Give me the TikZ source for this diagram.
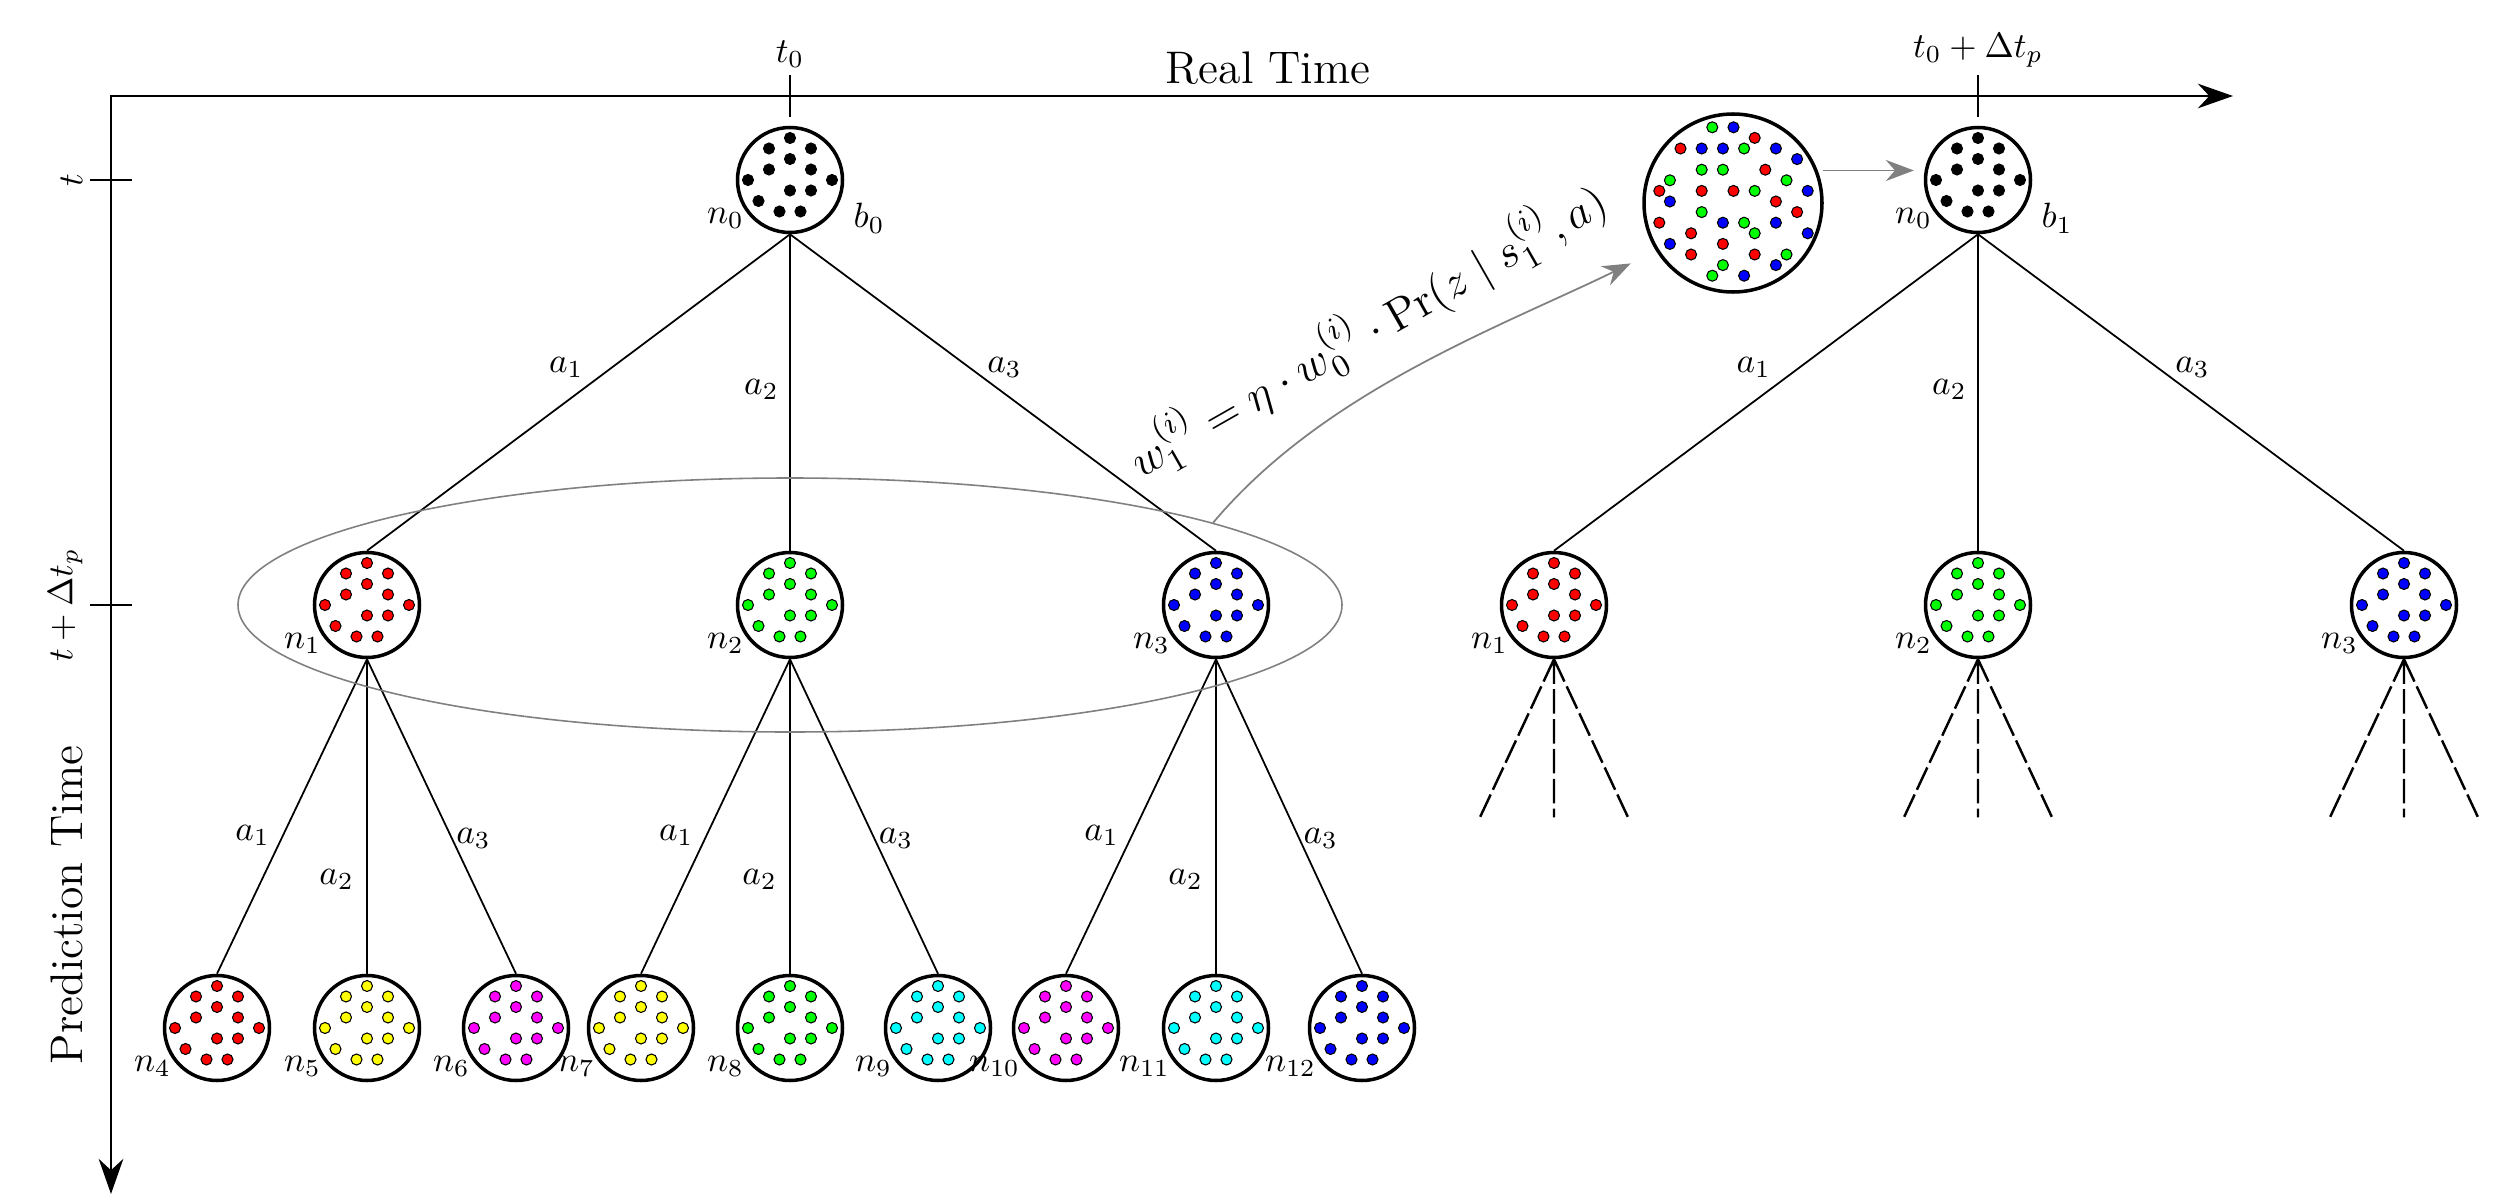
\RequirePackage{fix-cm}
\documentclass[tikz,border=0pt]{standalone}
\usepackage{amsmath}
\usepackage{amsfonts}
\usepackage{tikz}
\usetikzlibrary{positioning,arrows.meta,shapes.geometric}

\definecolor{pyellow}{RGB}{255,255,0}
\definecolor{pmagenta}{RGB}{255,0,255}
\definecolor{pcyan}{RGB}{0,255,255}
\newcommand{\bigtext}{\fontsize{13}{16}\selectfont}
% thirteen particles of one colour inside a belief node
\newcommand{\particles}[2]{%
  \foreach \dx/\dy in {0/4,-2/3,2/3,0/2,-2/1,2/1,-4/0,4/0,0/-1,2/-1,-3/-2,-1/-3,1/-3}
    \draw[particle,fill=#2] (#1) ++(0.105*\dx,0.105*\dy) circle (0.055);
}
% resampled particles of the three branches
\newcommand{\mixedparticles}[1]{%
  \foreach \dx/\dy/\col in {-2/7/green,0/7/blue,2/6/red,
      -5/5/red,-3/5/blue,-1/5/blue,1/5/green,4/5/blue,6/4/blue,
      -3/3/green,-1/3/green,3/3/red,-6/2/green,5/2/green,
      -7/1/red,-3/1/red,0/1/red,2/1/green,7/1/blue,-6/0/blue,4/0/red,
      6/-1/red,-3/-1/green,-7/-2/red,-1/-2/blue,1/-2/green,4/-2/blue,
      -4/-3/red,2/-3/green,7/-3/blue,-6/-4/blue,-1/-4/red,
      -4/-5/red,2/-5/red,5/-5/green,-1/-6/green,4/-6/blue,-2/-7/green,1/-7/blue}
    \draw[particle,fill=\col] (#1) ++(0.106*\dx+0.005,0.106*\dy+0.015) circle (0.055);
}

\begin{document}
\begin{tikzpicture}[
    >=Stealth,
    on grid,
    belief/.style={circle, draw, line width=1pt, fill=white, minimum size=1.05cm, inner sep=0pt},
    particle/.style={draw=black, line width=0.3pt},
    nlab/.style={label={[anchor=east]south west:$n_{#1}$}},
    blab/.style={label={[anchor=west,xshift=5pt]south east:$b_{#1}$}},
    every label/.style={inner sep=2pt},
    act/.style={inner sep=2pt},
    treeline/.style={line width=0.5pt},
    stubline/.style={line width=0.7pt, dash pattern=on 7pt off 1.5pt},
    flowline/.style={->, gray, line width=0.5pt, >={Stealth[length=8pt,width=6pt]}},
    axisline/.style={line width=0.65pt, >={Stealth[length=10pt,width=7pt]}},
    tickline/.style={line width=0.35pt}
]
\useasboundingbox (0,0) rectangle (25.13,-11.98);

% current tree
\node[belief, nlab=0, blab=0] (n0) at (7.90,-1.80) {};
\node[belief, nlab=1, below left=4.25cm and 4.23cm of n0] (n1) {};
\node[belief, nlab=2, below=4.25cm of n0] (n2) {};
\node[belief, nlab=3, below right=4.25cm and 4.26cm of n0] (n3) {};
\node[belief, nlab=4, below left=4.23cm and 1.50cm of n1] (n4) {};
\node[belief, nlab=5, below=4.23cm of n1] (n5) {};
\node[belief, nlab=6, below right=4.23cm and 1.49cm of n1] (n6) {};
\node[belief, nlab=7, below left=4.23cm and 1.49cm of n2] (n7) {};
\node[belief, nlab=8, below=4.23cm of n2] (n8) {};
\node[belief, nlab=9, below right=4.23cm and 1.48cm of n2] (n9) {};
\node[belief, nlab=10, below left=4.23cm and 1.50cm of n3] (n10) {};
\node[belief, nlab=11, below=4.23cm of n3] (n11) {};
\node[belief, nlab=12, below right=4.23cm and 1.46cm of n3] (n12) {};

% next tree
\node[belief, nlab=0, blab=1] (b1) at (19.78,-1.80) {};
\node[belief, nlab=1, below left=4.25cm and 4.24cm of b1] (r1) {};
\node[belief, nlab=2, below=4.25cm of b1] (r2) {};
\node[belief, nlab=3, below right=4.25cm and 4.26cm of b1] (r3) {};
\node[circle, draw, line width=1pt, fill=white, minimum size=1.78cm, inner sep=0pt,
      below left=0.23cm and 2.45cm of b1] (newbelief) {};

\particles{n0}{black}
\particles{n1}{red}
\particles{n2}{green}
\particles{n3}{blue}
\particles{n4}{red}
\particles{n5}{pyellow}
\particles{n6}{pmagenta}
\particles{n7}{pyellow}
\particles{n8}{green}
\particles{n9}{pcyan}
\particles{n10}{pmagenta}
\particles{n11}{pcyan}
\particles{n12}{blue}
\particles{b1}{black}
\particles{r1}{red}
\particles{r2}{green}
\particles{r3}{blue}
\mixedparticles{newbelief}

% axes
\coordinate (origin) at (1.11,-0.96);
\coordinate (realend) at (22.33,-0.96);
\coordinate (predend) at (1.11,-11.94);
\draw[axisline, <->] (predend) |- (realend);
\node[anchor=base] (realtime) at (12.68,-0.83) {\bigtext Real Time};
\node[rotate=90] (predtime) at (0.67,-9.05) {\bigtext Prediction Time};

\draw[tickline] (n0 |- origin) ++(0,-0.21) -- ++(0,0.42) node[above, inner sep=2pt] {$t_0$};
\draw[tickline] (b1 |- origin) ++(0,-0.21) -- ++(0,0.42) node[above, inner sep=2pt] {$t_0+\Delta t_p$};
\draw[tickline] (origin |- n0) ++(0.21,0) -- ++(-0.42,0) node[rotate=90, anchor=south, inner sep=2pt] {$t$};
\draw[tickline] (origin |- n2) ++(0.21,0) -- ++(-0.42,0) node[rotate=90, anchor=south, inner sep=2pt] {$t+\Delta t_p$};

% branches
\path[treeline]
(n0.south) edge node[act, pos=.42, left=6pt] {$a_1$} (n1.north)
(n0.south) edge node[act, pos=.49, left=1pt] {$a_2$} (n2.north)
(n0.south) edge node[act, pos=.42, right=3pt] {$a_3$} (n3.north)
(n1.south) edge node[act, pos=.56, left=1.5pt] {$a_1$} (n4.north)
(n1.south) edge node[act, pos=.70, left=1.5pt] {$a_2$} (n5.north)
(n1.south) edge node[act, pos=.57, right=-1pt] {$a_3$} (n6.north)
(n2.south) edge node[act, pos=.56, left=1.5pt] {$a_1$} (n7.north)
(n2.south) edge node[act, pos=.70, left=1.5pt] {$a_2$} (n8.north)
(n2.south) edge node[act, pos=.57, right=-1pt] {$a_3$} (n9.north)
(n3.south) edge node[act, pos=.56, left=1.5pt] {$a_1$} (n10.north)
(n3.south) edge node[act, pos=.70, left=1.5pt] {$a_2$} (n11.north)
(n3.south) edge node[act, pos=.57, right=-1pt] {$a_3$} (n12.north)
(b1.south) edge node[act, pos=.42, left=6pt] {$a_1$} (r1.north)
(b1.south) edge node[act, pos=.49, left=1pt] {$a_2$} (r2.north)
(b1.south) edge node[act, pos=.42, right=3pt] {$a_3$} (r3.north);

\draw[stubline] (r1.south) -- ++(-0.74,-1.58) (r1.south) -- ++(0,-1.58) (r1.south) -- ++(0.74,-1.58);
\draw[stubline] (r2.south) -- ++(-0.74,-1.58) (r2.south) -- ++(0,-1.58) (r2.south) -- ++(0.74,-1.58);
\draw[stubline] (r3.south) -- ++(-0.74,-1.58) (r3.south) -- ++(0,-1.58) (r3.south) -- ++(0.74,-1.58);

% weight update
\node[ellipse, draw=gray, line width=0.45pt, minimum width=11.04cm, minimum height=2.54cm, inner sep=0pt] (layer) at (n2) {};
\draw[flowline, shorten >=8pt] (layer.11) to[out=50, in=206, looseness=0.85]
  node[sloped, above=4pt, pos=.45, text=black] {\bigtext $w_1^{(i)} = \eta \cdot w_0^{(i)} \cdot \Pr(z \mid s_1^{(i)}, a)$} (newbelief.212);
\draw[flowline, shorten <=1.5pt, shorten >=2.8pt] (newbelief.21) -- (newbelief.21 -| b1.west);
\end{tikzpicture}
\end{document}
